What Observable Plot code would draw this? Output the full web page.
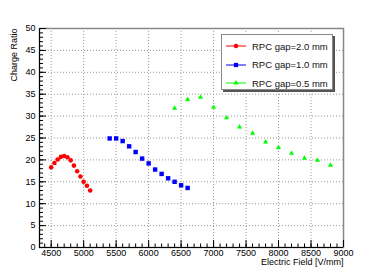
<!DOCTYPE html>
<html>
<head>
<meta charset="utf-8">
<script src="https://cdn.jsdelivr.net/npm/d3@7"></script>
<script src="https://cdn.jsdelivr.net/npm/@observablehq/plot@0.6"></script>
<style>
  html, body { margin: 0; padding: 0; background: #fff; }
  #wrap { position: relative; width: 381px; height: 275px; font-family: "Liberation Sans", Arial, sans-serif; }
  #legend { position: absolute; left: 221px; top: 34px; width: 112px; height: 56px; border: 1px solid #888; background: #fff; box-shadow: 2px 2px 0 #555; box-sizing: border-box; }
  .entry { position: absolute; left: 3px; height: 14px; display: flex; align-items: center; font-size: 9.5px; color: #111; white-space: nowrap; }
  .entry svg { margin-right: 5px; }
</style>
</head>
<body>
<div id="wrap">
  <div id="chart"></div>
  <div id="legend"></div>
</div>
<script>
// ---- data ----
const gap20x = [4500, 4550, 4600, 4650, 4700, 4750, 4800, 4850, 4900, 4950, 5000, 5050, 5100];
const gap20y = [18.3, 19.3, 20.1, 20.7, 20.9, 20.6, 19.9, 18.7, 17.4, 16.2, 15.0, 14.1, 13.0];
const gap10x = [5400, 5500, 5600, 5700, 5800, 5900, 6000, 6100, 6200, 6300, 6400, 6500, 6600];
const gap10y = [24.9, 24.9, 24.3, 23.1, 21.8, 20.3, 19.2, 17.8, 16.8, 15.8, 15.0, 14.2, 13.6];
const gap05x = [6400, 6600, 6800, 7000, 7200, 7400, 7600, 7800, 8000, 8200, 8400, 8600, 8800];
const gap05y = [31.8, 33.8, 34.3, 32.0, 29.6, 27.5, 26.1, 24.1, 22.8, 21.5, 20.4, 19.9, 18.8];
const seriesNames = ["RPC gap=2.0 mm", "RPC gap=1.0 mm", "RPC gap=0.5 mm"];
const seriesColors = ["#ff0000", "#0000ff", "#00ff00"];
const seriesSymbols = ["circle", "square", "triangle"];
const xTicks = [4500, 5000, 5500, 6000, 6500, 7000, 7500, 8000, 8500, 9000];
const yTicks = [0, 5, 10, 15, 20, 25, 30, 35, 40, 45, 50];
const xDomain = [4320, 9000];
const yDomain = [0, 50];
const xLabel = "Electric Field [V/mm]";
const yLabel = "Charge Ratio";

const xMinor = d3.range(4400, 9001, 100);
const yMinor = d3.range(0, 50.01, 1);

const toRows = (xs, ys, i) => xs.map((x, k) => ({x, y: ys[k], s: i}));
const rows = [
  ...toRows(gap20x, gap20y, 0),
  ...toRows(gap10x, gap10y, 1),
  ...toRows(gap05x, gap05y, 2)
];

const font = "Liberation Sans, Arial, sans-serif";

const chart = Plot.plot({
  width: 381,
  height: 275,
  marginLeft: 39,
  marginRight: 38,
  marginTop: 28,
  marginBottom: 28,
  style: {fontFamily: font, fontSize: "9px", color: "#000", background: "#fff"},
  x: {domain: xDomain},
  y: {domain: yDomain},
  marks: [
    Plot.gridX(xTicks, {stroke: "#999", strokeOpacity: 1, strokeDasharray: "1,2"}),
    Plot.gridY(yTicks, {stroke: "#999", strokeOpacity: 1, strokeDasharray: "1,2"}),
    Plot.frame({stroke: "#888", strokeWidth: 1.5}),
    // minor ticks
    Plot.axisX(xMinor, {anchor: "bottom", tickSize: -3.5, text: null, label: null, stroke: "#000"}),
    Plot.axisY(yMinor, {anchor: "left", tickSize: -4, text: null, label: null, stroke: "#000"}),
    // major ticks
    Plot.axisX(xTicks, {anchor: "bottom", tickSize: -7, text: null, label: null, stroke: "#000"}),
    Plot.axisY(yTicks, {anchor: "left", tickSize: -7, text: null, label: null, stroke: "#000"}),
    // tick labels
    Plot.axisX(xTicks, {anchor: "bottom", tickSize: 0, tickPadding: 2, tickFormat: d => String(d), label: null, fontSize: 9}),
    Plot.axisY(yTicks, {anchor: "left", tickSize: 0, tickPadding: 4, tickFormat: d => String(d), label: null, fontSize: 9}),
    // axis lines
    Plot.ruleY([yDomain[0]], {stroke: "#000"}),
    Plot.ruleX([xDomain[0]], {stroke: "#000"}),
    // axis titles
    Plot.text([xLabel], {frameAnchor: "bottom-right", dy: 15, textAnchor: "end", lineAnchor: "middle", fontSize: 9}),
    Plot.text([yLabel], {frameAnchor: "top-left", dx: -25, rotate: -90, textAnchor: "end", lineAnchor: "middle", fontSize: 9}),
    // data
    Plot.dot(rows.filter(d => d.s === 0), {x: "x", y: "y", r: 2.3, fill: seriesColors[0], symbol: "circle"}),
    Plot.dot(rows.filter(d => d.s === 1), {x: "x", y: "y", r: 2.5, fill: seriesColors[1], symbol: "square"}),
    Plot.dot(rows.filter(d => d.s === 2), {x: "x", y: "y", r: 1.9, fill: seriesColors[2], symbol: "triangle"})
  ]
});
document.getElementById("chart").appendChild(chart);

// legend
const legend = document.getElementById("legend");
const symPath = {
  circle: d3.symbol(d3.symbolCircle, 16)(),
  square: d3.symbol(d3.symbolSquare, 18)(),
  triangle: d3.symbol(d3.symbolTriangle, 12)()
};
seriesNames.forEach((name, i) => {
  const e = document.createElement("div");
  e.className = "entry";
  e.style.top = (4 + i * 18.7) + "px";
  e.innerHTML = `<svg width="22" height="10"><line x1="1" x2="21" y1="5" y2="5" stroke="${seriesColors[i]}" stroke-width="1"/><path transform="translate(11,5)" d="${symPath[seriesSymbols[i]]}" fill="${seriesColors[i]}"/></svg><span></span>`;
  e.querySelector("span").textContent = name;
  legend.appendChild(e);
});
</script>
</body>
</html>
